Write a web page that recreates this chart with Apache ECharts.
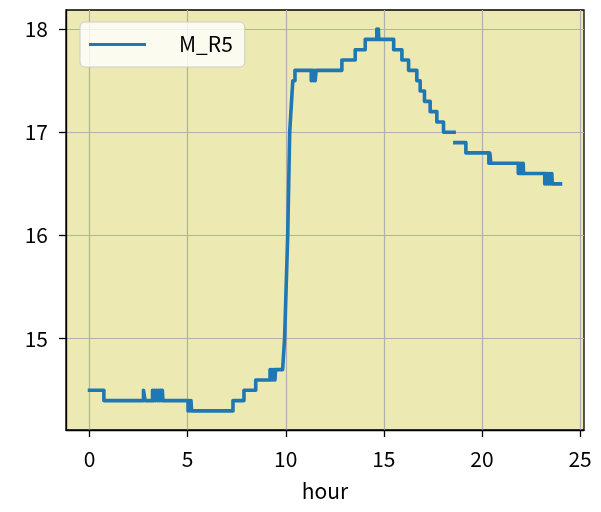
<!DOCTYPE html>
<html>
<head>
<meta charset="utf-8">
<script src="https://cdn.jsdelivr.net/npm/echarts@6/dist/echarts.min.js"></script>
<style>
html,body{margin:0;padding:0;background:#fff;}
#chart{width:601px;height:512px;}
</style>
</head>
<body>
<div id="chart"></div>
<script>
// Series name
const seriesName = 'M_R5';
// Hours (x) and temperatures (y); null marks a gap in the record
const hours = [
  0, 0.73, 0.73,
  2.75, 2.75, 2.83, 2.83,
  3.21, 3.21, 3.26, 3.26, 3.31, 3.31, 3.36, 3.36, 3.41, 3.41, 3.46, 3.46, 3.51, 3.51, 3.56, 3.56, 3.61, 3.61, 3.66, 3.66, 3.71, 3.71, 3.74, 3.74,
  5.02, 5.02, 5.07, 5.07, 5.12, 5.12, 5.17, 5.17, 5.2, 5.2,
  7.31, 7.31, 7.87, 7.87, 8.47, 8.47,
  9.2, 9.2, 9.25, 9.25, 9.3, 9.3, 9.35, 9.35, 9.4, 9.4, 9.45, 9.45, 9.48, 9.48,
  9.84, 9.94, 10.1, 10.2, 10.32, 10.36, 10.47, 10.47,
  11.3, 11.3, 11.35, 11.35, 11.4, 11.4, 11.45, 11.45, 11.5, 11.5, 11.55, 11.55,
  12.86, 12.86, 13.54, 13.54, 14.05, 14.05,
  14.64, 14.64, 14.68, 14.68, 14.72, 14.72, 14.74, 14.74,
  15.5, 15.5, 15.92, 15.92, 16.26, 16.26, 16.68, 16.68, 16.85, 16.85,
  17.07, 17.07, 17.36, 17.36, 17.7, 17.7, 18.04, 18.04, 18.58,
  18.6,
  18.62, 19.18, 19.18,
  20.35, 20.35, 20.4, 20.4, 20.45, 20.45,
  21.85, 21.85, 21.9, 21.9, 21.95, 21.95, 22.0, 22.0, 22.05, 22.05, 22.1, 22.1, 22.12, 22.12,
  23.2, 23.2, 23.25, 23.25, 23.3, 23.3, 23.35, 23.35, 23.4, 23.4, 23.45, 23.45, 23.5, 23.5, 23.56, 23.56, 23.58, 23.58,
  24.0
];
const temps = [
  14.5, 14.5, 14.4,
  14.4, 14.5, 14.5, 14.4,
  14.4, 14.5, 14.5, 14.4, 14.4, 14.5, 14.5, 14.4, 14.4, 14.5, 14.5, 14.4, 14.4, 14.5, 14.5, 14.4, 14.4, 14.5, 14.5, 14.4, 14.4, 14.5, 14.5, 14.4,
  14.4, 14.3, 14.3, 14.4, 14.4, 14.3, 14.3, 14.4, 14.4, 14.3,
  14.3, 14.4, 14.4, 14.5, 14.5, 14.6,
  14.6, 14.7, 14.7, 14.6, 14.6, 14.7, 14.7, 14.6, 14.6, 14.7, 14.7, 14.6, 14.6, 14.7,
  14.7, 15.0, 16.0, 17.0, 17.38, 17.5, 17.5, 17.6,
  17.6, 17.5, 17.5, 17.6, 17.6, 17.5, 17.5, 17.6, 17.6, 17.5, 17.5, 17.6,
  17.6, 17.7, 17.7, 17.8, 17.8, 17.9,
  17.9, 18.0, 18.0, 17.9, 17.9, 18.0, 18.0, 17.9,
  17.9, 17.8, 17.8, 17.7, 17.7, 17.6, 17.6, 17.5, 17.5, 17.4,
  17.4, 17.3, 17.3, 17.2, 17.2, 17.1, 17.1, 17.0, 17.0,
  null,
  16.9, 16.9, 16.8,
  16.8, 16.7, 16.7, 16.8, 16.8, 16.7,
  16.7, 16.6, 16.6, 16.7, 16.7, 16.6, 16.6, 16.7, 16.7, 16.6, 16.6, 16.7, 16.7, 16.6,
  16.6, 16.5, 16.5, 16.6, 16.6, 16.5, 16.5, 16.6, 16.6, 16.5, 16.5, 16.6, 16.6, 16.5, 16.5, 16.6, 16.6, 16.5,
  16.5
];
// Tick labels
const xTicks = [0, 5, 10, 15, 20, 25];
const yTicks = [15, 16, 17, 18];
const xLabel = 'hour';

const points = hours.map((h, i) => [h, temps[i]]);
const FONT = '"Noto Sans CJK JP", "DejaVu Sans", sans-serif';
const FS = 21;

const chart = echarts.init(document.getElementById('chart'), null, {renderer: 'canvas'});
chart.setOption({
  animation: false,
  backgroundColor: '#ffffff',
  grid: {
    left: 66, right: 17, top: 10, bottom: 82,
    show: true,
    backgroundColor: '#ECE9B3',
    borderColor: '#000000',
    borderWidth: 1.3
  },
  legend: {
    show: true,
    data: [seriesName],
    left: 80, top: 22,
    icon: 'rect',
    itemWidth: 57,
    itemHeight: 3,
    padding: [12, 12, 12, 9],
    backgroundColor: 'rgba(255,255,255,0.8)',
    borderColor: '#cccccc',
    borderWidth: 1,
    borderRadius: 5,
    textStyle: {
      fontFamily: FONT, fontSize: FS, color: '#000',
      padding: [0, 0, 0, 28]
    }
  },
  xAxis: {
    type: 'value',
    min: -1.2, max: 25.2,
    name: xLabel,
    nameLocation: 'middle',
    nameGap: 51,
    nameTextStyle: {fontFamily: FONT, fontSize: FS, color: '#000'},
    axisLine: {show: true, onZero: false, lineStyle: {color: '#000', width: 1.3}},
    axisTick: {show: true, length: 7, lineStyle: {color: '#000', width: 1.3}, customValues: xTicks},
    axisLabel: {fontFamily: FONT, fontSize: FS, color: '#000', margin: 19, customValues: xTicks},
    splitLine: {show: true, lineStyle: {color: '#b0b0b0', width: 1.2}}
  },
  yAxis: {
    type: 'value',
    min: 14.115, max: 18.185,
    axisLine: {show: true, onZero: false, lineStyle: {color: '#000', width: 1.3}},
    axisTick: {show: true, length: 7, lineStyle: {color: '#000', width: 1.3}, customValues: yTicks},
    axisLabel: {fontFamily: FONT, fontSize: FS, color: '#000', margin: 18, customValues: yTicks},
    splitLine: {show: true, lineStyle: {color: '#b0b0b0', width: 1.2}}
  },
  series: [{
    name: seriesName,
    type: 'line',
    data: points,
    showSymbol: false,
    symbol: 'none',
    connectNulls: false,
    itemStyle: {color: '#1f77b4'},
    lineStyle: {color: '#1f77b4', width: 3.6, cap: 'square', join: 'round'}
  }]
});
</script>
</body>
</html>
